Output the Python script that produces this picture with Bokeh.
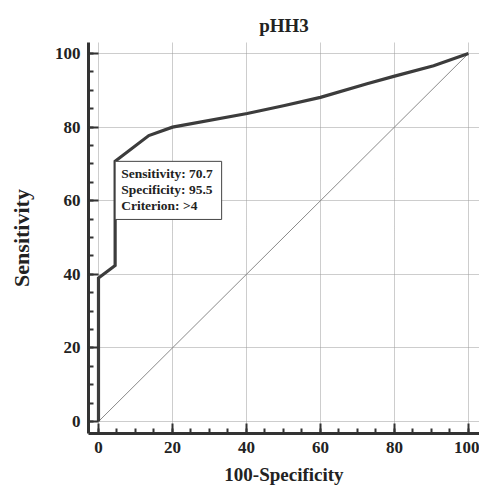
from bokeh.plotting import figure
from bokeh.models import Range1d, SingleIntervalTicker, Label
from bokeh.embed import file_html
from bokeh.resources import INLINE

# ROC curve data (100-Specificity, Sensitivity)
roc_fpr = [0, 0, 4.5, 4.5, 13.6, 20.0, 40.2, 50.0, 60.0, 72.6, 79.8, 90.6, 100]
roc_sens = [0, 39.0, 42.4, 70.7, 77.7, 80.0, 83.7, 85.8, 88.1, 91.8, 93.8, 96.7, 100]
diag_x = [0, 100]
diag_y = [0, 100]

# Optimal criterion
crit_sens = 70.7
crit_spec = 95.5
crit_label = ">4"

title_text = "pHH3"
x_title = "100-Specificity"
y_title = "Sensitivity"

SERIF = "Liberation Serif"
AX = "#333333"

p = figure(width=479, height=487,
           x_range=Range1d(-2.7, 103.0), y_range=Range1d(-3.26, 103.0),
           output_backend="svg", toolbar_location=None, tools="",
           min_border_left=88, min_border_right=0,
           min_border_top=42, min_border_bottom=54,
           title=title_text)

p.background_fill_color = "white"
p.border_fill_color = "white"
p.outline_line_color = None

p.title.align = "center"
p.title.text_font = SERIF
p.title.text_font_size = "19px"
p.title.text_font_style = "bold"
p.title.text_color = "#222222"
p.title.standoff = 13

for ax in (p.xaxis[0], p.yaxis[0]):
    ax.ticker = SingleIntervalTicker(interval=20, num_minor_ticks=4)
    ax.axis_line_width = 3
    ax.axis_line_color = AX
    ax.major_tick_in = 10
    ax.major_tick_out = 0
    ax.minor_tick_in = 5
    ax.minor_tick_out = 0
    ax.major_tick_line_width = 2
    ax.minor_tick_line_width = 2
    ax.major_tick_line_color = AX
    ax.minor_tick_line_color = AX
    ax.major_label_text_font = SERIF
    ax.major_label_text_font_size = "17px"
    ax.major_label_text_font_style = "bold"
    ax.major_label_text_color = "#222222"
    ax.axis_label_text_font = SERIF
    ax.axis_label_text_font_style = "bold"
    ax.axis_label_text_color = "#222222"
    ax.major_label_standoff = 8

p.xaxis.axis_label = x_title
p.yaxis.axis_label = y_title
p.xaxis.axis_label_text_font_size = "19px"
p.yaxis.axis_label_text_font_size = "22px"
p.xaxis.axis_label_standoff = 8
p.yaxis.axis_label_standoff = 18

p.xgrid.ticker = SingleIntervalTicker(interval=20)
p.ygrid.ticker = SingleIntervalTicker(interval=20)
p.grid.grid_line_color = "#9a9a9a"
p.grid.grid_line_dash = "1 1"
p.grid.grid_line_width = 1

p.line(diag_x, diag_y, line_color="#8a8a8a", line_width=1)
p.line(roc_fpr, roc_sens, line_color="#3c3c3c", line_width=3.2, line_join="miter")

box_text = "Sensitivity: %.1f\nSpecificity: %.1f\nCriterion: %s" % (crit_sens, crit_spec, crit_label)
lab = Label(x=100 - crit_spec, y=crit_sens, text=box_text,
            anchor="top_left",
            text_font=SERIF, text_font_size="13.5px", text_font_style="bold",
            text_color="#222222", text_line_height=1.07,
            background_fill_color="white",
            border_line_color="#444444", border_line_width=1,
            padding=dict(left=6, right=9, top=5, bottom=6))
p.add_layout(lab)

open("out.html", "w").write(file_html(p, INLINE))
